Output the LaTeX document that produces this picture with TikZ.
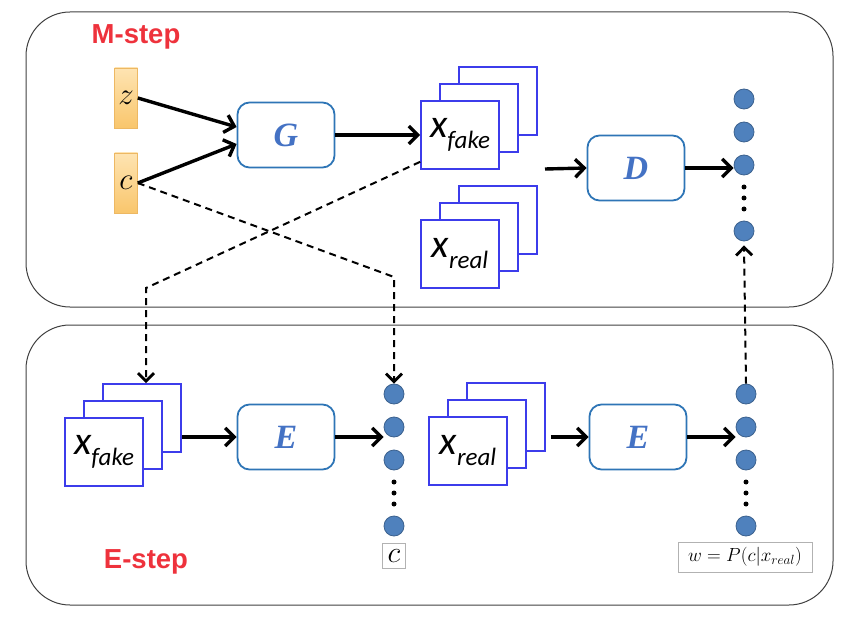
\RequirePackage{fix-cm}
\documentclass[tikz,border=0pt]{standalone}
\usepackage{fontspec}
\usepackage{amsmath}
\usepackage{xcolor}
\usepackage{tikz}
\usetikzlibrary{arrows.meta, positioning, calc}

\newfontfamily\phasefont{Liberation Sans}
\newfontfamily\sheetfont{Carlito}
\newfontfamily\netfont{Liberation Serif}

\definecolor{netblue}{RGB}{46,117,182}
\definecolor{letterblue}{RGB}{68,114,196}
\definecolor{sheetblue}{RGB}{60,60,235}
\definecolor{unitblue}{RGB}{79,129,189}
\definecolor{phasered}{RGB}{238,50,60}
\definecolor{latenttop}{RGB}{254,228,178}
\definecolor{latentbot}{RGB}{249,198,108}

\newcommand{\xlab}[1]{{\sheetfont\itshape\fontsize{40}{40}\selectfont x\raisebox{-11pt}{\fontsize{25}{25}\selectfont #1}}}

\begin{document}
\begin{tikzpicture}[
  x=1pt, y=-1pt,
  >={Straight Barb[length=9pt,width=18pt]},
  panel/.style={draw=black!75, line width=1pt, rounded corners=44pt},
  phase/.style={font=\phasefont\bfseries\fontsize{27.5}{27.5}\selectfont, text=phasered},
  latent/.style={draw=latentbot!80!brown, line width=0.6pt, top color=latenttop, bottom color=latentbot,
                 minimum width=23pt, minimum height=60pt, inner sep=0pt, font=\fontsize{31}{31}\selectfont},
  net/.style={draw=netblue, line width=1.8pt, rounded corners=12pt, minimum width=97pt, minimum height=65pt,
              font=\netfont\bfseries\itshape\fontsize{34}{34}\selectfont, text=letterblue},
  sheet/.style={draw=sheetblue, line width=1.6pt, fill=white, minimum width=78pt, minimum height=68pt, inner sep=0pt},
  unit/.style={circle, fill=unitblue, draw=unitblue!75!black, line width=0.8pt, minimum size=20pt, inner sep=0pt},
  dot/.style={circle, fill=black, minimum size=5pt, inner sep=0pt},
  flow/.style={->, line width=3.4pt},
  link/.style={-{Straight Barb[length=8pt,width=16pt,line width=2.8pt]}, line width=2pt, dash pattern=on 7pt off 5pt},
  tag/.style={draw=black!30, fill=white, inner sep=0pt}
]
  \useasboundingbox (0,0) rectangle (850,620);

  % the two phases
  \draw[panel] (26,12) rectangle (833,307);
  \draw[panel] (26,325) rectangle (833,605);
  \node[phase] (mLab) at (136,37) {M-step};
  \node[phase] (eLab) at (146,562) {E-step};

  % inputs and networks
  \node[latent] (zIn) at (126,98) {$z$};
  \node[latent] (cIn) at (126,183) {$c$};
  \node[net] (G)  at (286,135) {G};
  \node[net] (D)  at (636,168) {D};
  \node[net] (E1) at (286,437) {E};
  \node[net] (E2) at (638,437) {E};

  % stacks of samples
  \foreach \nm/\cx/\cy/\sub in {fakeTop/460/135/fake, realTop/460/254/real,
                                fakeBot/104/452/fake, realBot/468/451/real} {
    \node[sheet] (\nm B) at (\cx+38,\cy-34) {};
    \node[sheet] (\nm M) at (\cx+19,\cy-17) {};
    \node[sheet] (\nm F) at (\cx,\cy) {\xlab{\sub}};
  }

  % output units
  \foreach \col/\cx/\cy in {outD/744/99, codeE/394/394, wE/746/394} {
    \foreach \i/\dy in {1/0,2/33,3/66,4/132}
      \node[unit] (\col\i) at (\cx,\cy+\dy) {};
    \foreach \dy in {88,99,110}
      \node[dot] (\col d\dy) at (\cx,\cy+\dy) {};
  }

  \node[tag, minimum width=23pt, minimum height=25pt] (cTag) at (394,556)
        {\fontsize{30}{30}\selectfont$c$};
  \node[tag, minimum width=134pt, minimum height=30pt] (wTag) at (745,557)
        {\fontsize{19}{19}\selectfont$w=P(c|x_{real})$};

  % M-step flow
  \draw[flow] (zIn.east) -- ($(G.west)+(0,-8)$);
  \draw[flow] (cIn.east) -- ($(G.west)+(0,9)$);
  \draw[flow] (G.east) -- (fakeTopF.west);
  \coordinate (merge) at (545,169);
  \draw[flow] (merge) -- (D.west);
  \draw[flow] (D.east) -- (D.east -| outD3.west);

  % crossing links between phases
  \coordinate (cBend) at (394,277);
  \coordinate (fBend) at (146,288);
  \draw[link] (cIn.east) -- (cBend) -- (codeE1.north);
  \draw[link] ($(fakeTopF.south west)+(0,-8)$) -- (fBend) -- (fBend |- fakeBotB.north);
  \draw[link] (wE1.north) -- ($(outD4.south)+(0,4)$);

  % E-step flow
  \draw[flow] (fakeBotB.east |- E1.west) -- (E1.west);
  \draw[flow] (E1.east) -- (E1.east -| codeE2.west);
  \draw[flow] ($(realBotB.east |- E2.west)+(5,0)$) -- (E2.west);
  \draw[flow] (E2.east) -- (E2.east -| wE2.west);
\end{tikzpicture}
\end{document}
